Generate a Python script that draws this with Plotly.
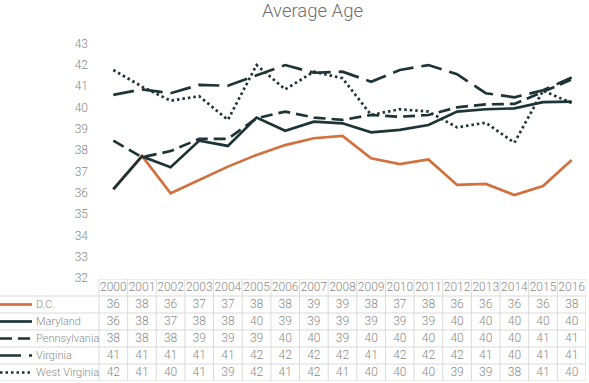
import plotly.graph_objects as go
import numpy as np

# ---------------- data ----------------
years = list(range(2000, 2017))
series_names = ["D.C.", "Maryland", "Pennsylvania", "Virginia", "West Virginia"]
dc = [36.16, 37.72, 35.97, 36.60, 37.22, 37.77, 38.23, 38.55, 38.66, 37.61, 37.34, 37.56, 36.36, 36.41, 35.89, 36.31, 37.53]
maryland = [36.16, 37.70, 37.19, 38.44, 38.19, 39.52, 38.90, 39.33, 39.25, 38.83, 38.94, 39.17, 39.80, 39.91, 39.95, 40.24, 40.27]
pennsylvania = [38.44, 37.66, 37.95, 38.52, 38.52, 39.49, 39.80, 39.52, 39.41, 39.64, 39.56, 39.64, 40.00, 40.14, 40.16, 40.74, 41.30]
virginia = [40.58, 40.84, 40.66, 41.05, 41.01, 41.51, 41.98, 41.62, 41.67, 41.20, 41.75, 41.98, 41.55, 40.66, 40.47, 40.80, 41.40]
west_virginia = [41.75, 40.97, 40.31, 40.52, 39.41, 41.98, 40.84, 41.67, 41.36, 39.64, 39.91, 39.80, 39.06, 39.28, 38.34, 40.78, 40.20]
y_ticks = list(range(32, 44))
title_text = "Average Age"

all_series = [dc, maryland, pennsylvania, virginia, west_virginia]

# ---------------- styling ----------------
W, H = 589, 383
ML, MR = 0, 3
PW = W - ML - MR
col_px = 487 / 17.0
table_left_px = 99
x0 = 1999.5 - table_left_px / col_px
x1 = 2016.5

colors = ["#D2703E", "#1E3437", "#1E3437", "#1E3437", "#1E3437"]
dashes = ["solid", "solid", "12px,6px", "21px,8px", "2.5px,3px"]
FONT = "Roboto"
txt_color = "#8a8a8a"
border = "#d9d9d9"

fig = go.Figure()

for name, vals, c, d in zip(series_names, all_series, colors, dashes):
    fig.add_trace(go.Scatter(
        x=years, y=vals, mode="lines", name=name,
        line=dict(color=c, width=2.7, dash=d),
        xaxis="x", yaxis="y", showlegend=False, hoverinfo="skip"))

# ---------------- data table ----------------
tx, ty, tt = [], [], []
for yr in years:
    tx.append(yr); ty.append(0.5); tt.append(str(yr))
for r, vals in enumerate(all_series):
    for yr, v in zip(years, vals):
        tx.append(yr); ty.append(r + 1.5); tt.append(str(int(np.floor(v + 0.5))))
fig.add_trace(go.Scatter(
    x=tx, y=ty, text=tt, mode="text",
    textfont=dict(family=FONT, size=12, color=txt_color, weight=300),
    xaxis="x", yaxis="y2", showlegend=False, hoverinfo="skip"))

shapes = []
# vertical borders
for k in range(len(years) + 1):
    xv = 1999.5 + k
    shapes.append(dict(type="line", xref="x", yref="y2", x0=xv, x1=xv, y0=0, y1=6,
                       line=dict(color=border, width=1)))
# header top border
shapes.append(dict(type="line", xref="x", yref="y2", x0=1999.5, x1=2016.5, y0=0, y1=0,
                   line=dict(color=border, width=1)))
for r in range(1, 7):
    shapes.append(dict(type="line", xref="x", yref="y2", x0=x0, x1=2016.5, y0=r, y1=r,
                       line=dict(color=border, width=1)))

annotations = []
for r, (name, c, d) in enumerate(zip(series_names, colors, dashes)):
    shapes.append(dict(type="line", xref="paper", yref="y2", x0=0, x1=32 / PW,
                       y0=r + 1.5, y1=r + 1.5, line=dict(color=c, width=2.7, dash=d)))
    annotations.append(dict(text=name, xref="paper", yref="y2", x=33.5 / PW, y=r + 1.5,
                            xanchor="left", yanchor="middle", showarrow=False,
                            font=dict(family=FONT, size=11, color=txt_color, weight=300)))

annotations.append(dict(text=title_text, xref="paper", yref="paper", x=(312 - ML) / PW,
                        y=1 - 11 / H, xanchor="center", yanchor="middle", showarrow=False,
                        font=dict(family=FONT, size=18.5, color="#6f6f6f", weight=300)))

y_main_bottom = (H - 278.0) / H
y_main_top = (H - 43.3) / H
fig.update_layout(
    width=W, height=H,
    margin=dict(l=ML, r=MR, t=0, b=0, pad=0),
    paper_bgcolor="white", plot_bgcolor="white",
    xaxis=dict(range=[x0, x1], visible=False, domain=[0, 1], anchor="y2", fixedrange=True),
    yaxis=dict(range=[32, 43], domain=[y_main_bottom, y_main_top], anchor="free",
               position=table_left_px / PW, tickvals=y_ticks, showgrid=False,
               zeroline=False, showline=False, ticks="", ticklabelstandoff=11,
               tickfont=dict(family=FONT, size=12, color=txt_color, weight=300),
               automargin=False, fixedrange=True),
    yaxis2=dict(range=[6, 0], domain=[(H - 381.0) / H, (H - 279.0) / H], anchor="x",
                visible=False, fixedrange=True),
    shapes=shapes, annotations=annotations,
)

fig.write_html("out.html", config={"displayModeBar": False},
               post_script="document.body.style.margin='0';document.body.style.overflow='hidden';")
